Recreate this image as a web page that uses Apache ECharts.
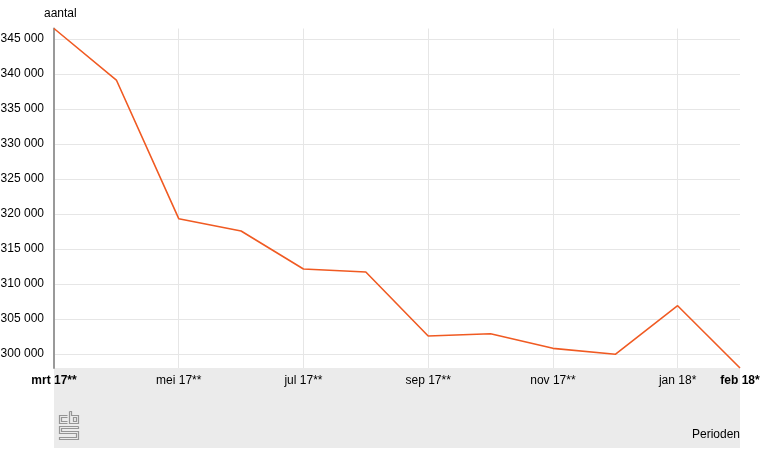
<!DOCTYPE html>
<html><head><meta charset="utf-8">
<script src="https://cdn.jsdelivr.net/npm/echarts@6/dist/echarts.min.js"></script>
<style>html,body{margin:0;padding:0;background:#fff}#c{width:764px;height:454px}</style>
</head><body><div id="c"></div>
<script>
var categories = ["mrt 17**","apr 17**","mei 17**","jun 17**","jul 17**","aug 17**","sep 17**","okt 17**","nov 17**","dec 17**","jan 18*","feb 18*"];
var values = [346500,339140,319330,317570,312140,311710,302570,302900,300810,299960,306900,298000];
var yTicks = [300000,305000,310000,315000,320000,325000,330000,335000,340000,345000];
var yName = "aantal";
var xName = "Perioden";

var chart = echarts.init(document.getElementById('c'), null, {renderer:'canvas'});
var font = "Arial, 'Liberation Sans', sans-serif";
var L = 54, R = 740, T = 28.5, B = 368;
var last = categories.length - 1;
function fmt(v){ return String(v).replace(/\B(?=(\d{3})+(?!\d))/g, ' '); }
var gray = '#959595';
chart.setOption({
  animation:false,
  textStyle:{fontFamily:font},
  graphic:[
    {type:'rect', shape:{x:L, y:B, width:R-L, height:80}, style:{fill:'#ebebeb'}, z:0, silent:true},
    {type:'text', left:44, top:8, style:{text:yName, font:'12px '+font, fill:'#000'}},
    {type:'text', x:740, y:435, style:{text:xName, font:'12px '+font, fill:'#000', align:'right', verticalAlign:'middle'}},
    // cbs logo approximation
    {type:'polyline', shape:{points:[[67.5,415.5],[59.5,415.5],[59.5,423.5],[67.5,423.5]]}, style:{stroke:gray, lineWidth:1.2, fill:null}},
    {type:'polyline', shape:{points:[[67.5,417.5],[61.5,417.5],[61.5,421.5],[67.5,421.5]]}, style:{stroke:gray, lineWidth:1.2, fill:null}},
    {type:'polyline', shape:{points:[[69.5,411.5],[69.5,423.5],[78.5,423.5],[78.5,415.5],[71.5,415.5],[71.5,411.5],[69.5,411.5]]}, style:{stroke:gray, lineWidth:1.2, fill:null}},
    {type:'rect', shape:{x:73.5, y:417.5, width:3, height:4}, style:{stroke:gray, lineWidth:1.2, fill:null}},
    {type:'polyline', shape:{points:[[78.5,426.5],[59.5,426.5],[59.5,433.5],[76.5,433.5],[76.5,437.5],[59.5,437.5],[59.5,439.5],[78.5,439.5],[78.5,431.5],[61.5,431.5],[61.5,428.5],[78.5,428.5],[78.5,426.5]]}, style:{stroke:gray, lineWidth:1.2, fill:null}}
  ],
  grid:{left:L, right:764-R, top:T, bottom:454-B, containLabel:false, outerBoundsMode:'none'},
  xAxis:{
    type:'category', data:categories, boundaryGap:false,
    axisLine:{show:false}, axisTick:{show:false},
    axisLabel:{
      interval:0, margin:7, color:'#000', fontSize:12, fontFamily:font, showMaxLabel:true,
      formatter:function(v, i){
        if (i === 0 || i === last) return '{b|' + v + '}';
        if (i % 2 === 0) return v;
        return '';
      },
      rich:{b:{fontWeight:'bold', fontSize:12, fontFamily:font, color:'#000'}}
    },
    splitLine:{show:true, interval:function(i){ return i % 2 === 0 && i !== 0 && i !== last; }, lineStyle:{color:'#e6e6e6', width:1}}
  },
  yAxis:{
    type:'value', min:298000, max:346500,
    axisLine:{show:true, lineStyle:{color:'#999', width:2}},
    axisTick:{show:false, customValues: yTicks},
    axisLabel:{color:'#000', fontSize:12, fontFamily:font, margin:10,
      customValues: yTicks,
      formatter:function(v){ return fmt(v); }},
    splitLine:{show:true, lineStyle:{color:'#e6e6e6', width:1}}
  },
  series:[{
    type:'line', data:values, symbol:'none', smooth:false,
    lineStyle:{color:'#f05a22', width:1.6}, z:5, clip:false
  }]
});
</script></body></html>
